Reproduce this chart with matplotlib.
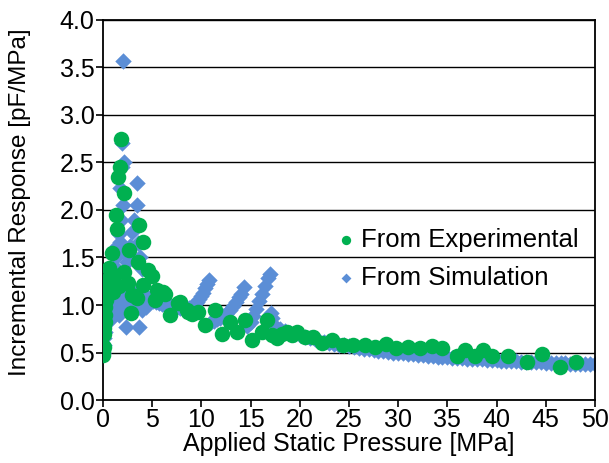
"""Incremental response vs applied static pressure: experimental points over simulated sweep."""

import matplotlib
matplotlib.use("Agg")
import matplotlib.pyplot as plt

plt.rcParams["font.family"] = ["Liberation Sans", "DejaVu Sans"]

# measured response [pF/MPa] at applied pressure [MPa]
exp_x = [0.0, 0.05, 0.1, 0.1, 0.15, 0.2, 0.2, 0.25, 0.3, 0.35, 0.4, 0.5, 0.6, 0.7, 0.9,
         1.0, 1.1, 1.3, 1.4, 1.5, 1.6, 1.7, 1.85, 2.1, 2.1, 2.5, 2.7, 2.9, 3.0, 3.5,
         3.6, 3.7, 4.1, 4.1, 4.6, 5.0, 5.3, 5.5, 6.1, 6.3, 6.8, 7.6, 7.8, 8.5, 8.6,
         9.1, 9.7, 10.4, 11.4, 12.1, 12.9, 13.6, 14.4, 15.1, 16.2, 16.7, 17.2, 17.7,
         18.2, 18.7, 19.2, 19.7, 20.5, 21.3, 22.3, 23.3, 24.4, 25.4, 26.6, 27.6, 28.8,
         29.8, 31.0, 32.2, 33.4, 34.5, 36.0, 36.8, 37.8, 38.6, 39.5, 41.2, 43.1, 44.6,
         46.4, 48.1]
exp_y = [0.47, 0.52, 0.56, 0.70, 0.76, 0.82, 0.90, 0.98, 1.05, 1.12, 1.18, 1.25, 1.39, 1.30, 1.55,
         1.14, 1.32, 1.95, 1.80, 2.35, 1.20, 2.45, 2.75, 2.18, 1.35, 1.23, 1.58, 0.92, 1.10, 1.07,
         1.45, 1.84, 1.66, 1.21, 1.37, 1.31, 1.05, 1.16, 1.14, 1.12, 0.89, 1.02, 1.03, 0.95, 0.93,
         0.91, 0.93, 0.79, 0.95, 0.70, 0.82, 0.72, 0.84, 0.63, 0.72, 0.84, 0.68, 0.65,
         0.70, 0.72, 0.68, 0.72, 0.66, 0.66, 0.60, 0.63, 0.58, 0.58, 0.58, 0.56, 0.59,
         0.55, 0.56, 0.55, 0.57, 0.55, 0.46, 0.53, 0.46, 0.53, 0.46, 0.46, 0.40, 0.48,
         0.35, 0.40]

# simulated response, dense sweep
sim_x = [0.05, 0.1, 0.15, 0.2, 0.25, 0.3, 0.35, 0.45, 0.55, 0.7, 0.85, 1.0, 1.1, 1.2, 1.3,
         1.45, 1.6, 1.7, 1.8, 1.75, 1.9, 1.95, 2.0, 2.1, 2.0, 2.2, 2.4, 2.6, 2.8, 3.0,
         3.2, 3.5, 3.5, 3.6, 3.8, 4.0, 1.2, 1.4, 1.6, 1.8, 2.0, 2.2, 2.4, 2.6, 2.8,
         3.0, 3.2, 3.4, 3.6, 3.8, 4.0, 2.3, 3.7, 1.0, 0.8, 4.4, 4.0,
         4.2, 4.5, 4.8, 5.1, 5.4, 5.7, 6.0, 6.3, 6.6, 6.9, 7.2, 7.5, 7.8, 8.1, 8.4, 8.7, 9.0,
         9.2, 9.4, 9.6, 9.8, 10.0, 10.2, 10.4, 10.6, 10.8,
         11.0, 11.3, 11.6, 11.9, 12.2, 12.5, 12.9, 13.2, 13.5, 13.8, 14.0, 14.3,
         14.6, 15.0, 15.3, 15.6, 15.9, 16.2, 16.5, 16.8, 17.0,
         17.1, 17.2, 17.3,
         17.5, 18.0, 18.5, 19.0, 19.5, 20.0, 20.5, 21.0, 21.5, 22.0, 22.5, 23.0, 23.5,
         24.0, 24.5, 25.0, 25.5, 26.0, 26.5, 27.0, 27.5, 28.0, 28.5, 29.0, 29.5, 30.0,
         30.5, 31.0, 31.5, 32.0, 32.5, 33.0, 33.5, 34.0, 34.5, 35.0, 35.5, 36.0, 36.5,
         37.0, 37.5, 38.0, 38.5, 39.0, 39.5, 40.0, 40.5, 41.0, 41.5, 42.0, 42.5, 43.0,
         43.5, 44.0, 44.5, 45.0, 45.5, 46.0, 46.5, 47.0, 47.5, 48.0, 48.5, 49.0, 49.5, 50.0]
sim_y = [0.50, 0.58, 0.65, 0.72, 0.80, 0.87, 0.93, 1.00, 1.05, 1.10, 1.15, 1.20, 1.30, 1.40, 1.50,
         1.62, 1.75, 1.66, 1.89, 2.23, 2.45, 2.70, 3.57, 2.50, 2.05, 1.55, 1.45, 1.50, 1.62, 1.77,
         1.89, 2.05, 2.28, 1.65, 1.50, 1.38, 1.05, 0.95, 0.90, 1.00, 1.10, 1.20, 1.10, 1.05, 1.00,
         0.98, 1.05, 1.12, 1.15, 1.10, 1.05, 0.77, 0.77, 0.90, 0.85, 0.98, 0.95,
         1.12, 1.08, 1.06, 1.04, 1.03, 1.02, 1.01, 1.00, 0.99, 0.99, 0.98, 0.98, 0.97, 0.97, 0.97, 0.97, 0.98,
         0.99, 1.01, 1.03, 1.06, 1.09, 1.13, 1.18, 1.22, 1.26,
         0.82, 0.83, 0.85, 0.86, 0.88, 0.91, 0.95, 0.99, 1.03, 1.08, 1.12, 1.19,
         0.78, 0.82, 0.88, 0.96, 1.04, 1.12, 1.20, 1.28, 1.33,
         0.92, 0.86, 0.80,
         0.77, 0.75, 0.73, 0.71, 0.69, 0.68, 0.66, 0.65, 0.64, 0.62, 0.61, 0.60, 0.59,
         0.58, 0.575, 0.57, 0.56, 0.55, 0.54, 0.535, 0.53, 0.52, 0.515, 0.51, 0.50, 0.495,
         0.49, 0.485, 0.48, 0.475, 0.47, 0.465, 0.46, 0.458, 0.455, 0.45, 0.447, 0.444, 0.44,
         0.437, 0.434, 0.43, 0.427, 0.424, 0.42, 0.417, 0.415, 0.412, 0.41, 0.407, 0.405, 0.402,
         0.40, 0.398, 0.396, 0.394, 0.392, 0.39, 0.388, 0.386, 0.384, 0.382, 0.38, 0.378, 0.376, 0.375]

x_ticks = list(range(0, 51, 5))
y_ticks = [0.0, 0.5, 1.0, 1.5, 2.0, 2.5, 3.0, 3.5, 4.0]

GREEN = "#00b050"
BLUE = "#5b8ed6"

fig = plt.figure(figsize=(6.09, 4.63), dpi=100)
ax = fig.add_axes([0.169, 0.136, 0.808, 0.821])

ax.set_axisbelow(True)
for yv in y_ticks:
    ax.axhline(yv, color="black", lw=1.0, zorder=0)

sim = ax.scatter(sim_x, sim_y, s=70, marker="D", color=BLUE, linewidths=0,
                 zorder=2, label="From Simulation")
exp = ax.scatter(exp_x, exp_y, s=125, marker="o", color=GREEN, linewidths=0,
                 zorder=3, label="From Experimental")

ax.set_xlim(0, 50)
ax.set_ylim(0, 4.0)
ax.set_xticks(x_ticks)
ax.set_yticks(y_ticks)
ax.set_yticklabels([f"{v:.1f}" for v in y_ticks])
ax.tick_params(labelsize=18, length=5, width=1.2, pad=1, colors="black")
for sp in ax.spines.values():
    sp.set_linewidth(1.3)
    sp.set_color("black")

ax.set_xlabel("Applied Static Pressure [MPa]", fontsize=18, labelpad=0)
ax.set_ylabel("Incremental Response [pF/MPa]", fontsize=17.5)
ax.yaxis.set_label_coords(-0.146, 0.52)

ax.legend(handles=[exp, sim], loc="upper left", bbox_to_anchor=(0.441, 0.50),
          frameon=False, fontsize=18.5, markerscale=0.6, handlelength=0.6,
          handletextpad=0.3, labelspacing=0.55, borderpad=0.2)

fig.savefig("out.png", dpi=100)
